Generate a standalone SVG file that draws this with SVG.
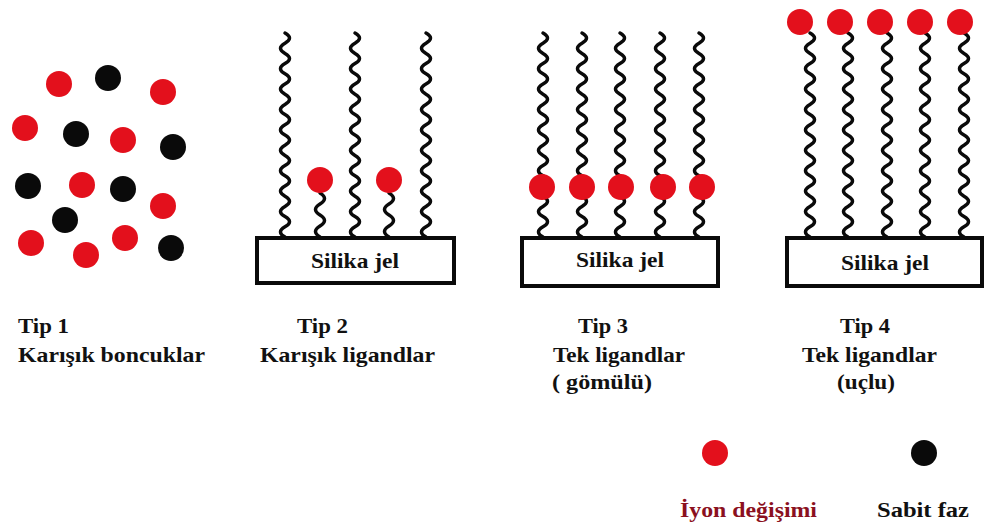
<svg xmlns="http://www.w3.org/2000/svg" xmlns:xlink="http://www.w3.org/1999/xlink" width="985" height="524" viewBox="0 0 985 524">
<style>
.r{fill:#e3101c}
.k{fill:#0a0a0a}
.w{fill:none;stroke:#0a0a0a;stroke-width:3.5;stroke-linejoin:round;stroke-linecap:round}
.box{fill:#fff;stroke:#0a0a0a;stroke-width:4}
.t{font-size:22px;fill:#111}
.s{font-size:21px;fill:#111;text-anchor:middle}
.ion{fill:#8b1020}
</style>
<defs>
<path id="wl" class="w" d="M0 0q9 5.1 0 10.2t0 10.2t0 10.2t0 10.2t0 10.2t0 10.2t0 10.2t0 10.2t0 10.2t0 10.2t0 10.2t0 10.2t0 10.2t0 10.2t0 10.2t0 10.2t0 10.2t0 10.2t0 10.2t0 10.2"/>
<path id="ws" class="w" d="M0 0q9 5.5 0 11t0 11t0 11t0 11"/>
</defs>
<rect width="985" height="524" fill="#fff"/>
<g font-family="Liberation Serif, DejaVu Serif, serif" font-weight="bold">
<g id="type1">
<circle class="r" cx="59" cy="84" r="13"/>
<circle class="k" cx="108" cy="78" r="13"/>
<circle class="r" cx="163" cy="92" r="13"/>
<circle class="r" cx="25" cy="128" r="13"/>
<circle class="k" cx="76" cy="134" r="13"/>
<circle class="r" cx="123" cy="140" r="13"/>
<circle class="k" cx="173" cy="147" r="13"/>
<circle class="k" cx="28" cy="186" r="13"/>
<circle class="r" cx="82" cy="185" r="13"/>
<circle class="k" cx="123" cy="189" r="13"/>
<circle class="r" cx="163" cy="206" r="13"/>
<circle class="k" cx="65" cy="220" r="13"/>
<circle class="r" cx="31" cy="243" r="13"/>
<circle class="r" cx="125" cy="238" r="13"/>
<circle class="r" cx="86" cy="255" r="13"/>
<circle class="k" cx="171" cy="248" r="13"/>
<text class="t" x="18" y="333" textLength="51" lengthAdjust="spacingAndGlyphs">Tip 1</text>
<text class="t" x="18" y="362" textLength="187" lengthAdjust="spacingAndGlyphs">Karışık boncuklar</text>
</g>

<g id="type2">
<use xlink:href="#wl" x="285" y="33"/>
<use xlink:href="#wl" x="355" y="33"/>
<use xlink:href="#wl" x="426" y="33"/>
<use xlink:href="#ws" x="320" y="193"/>
<use xlink:href="#ws" x="389" y="193"/>
<circle class="r" cx="320" cy="180" r="13"/>
<circle class="r" cx="389" cy="180" r="13"/>
<rect class="box" x="257" y="238" width="197" height="45"/>
<text class="s" x="355" y="268" textLength="88" lengthAdjust="spacingAndGlyphs">Silika jel</text>
<text class="t" x="297" y="333" textLength="51" lengthAdjust="spacingAndGlyphs">Tip 2</text>
<text class="t" x="260" y="362" textLength="175" lengthAdjust="spacingAndGlyphs">Karışık ligandlar</text>
</g>

<g id="type3">
<use xlink:href="#wl" x="543" y="33"/>
<use xlink:href="#wl" x="582" y="33"/>
<use xlink:href="#wl" x="620" y="33"/>
<use xlink:href="#wl" x="660" y="33"/>
<use xlink:href="#wl" x="699" y="33"/>
<circle class="r" cx="542" cy="187" r="13"/>
<circle class="r" cx="582" cy="187" r="13"/>
<circle class="r" cx="621" cy="187" r="13"/>
<circle class="r" cx="663" cy="187" r="13"/>
<circle class="r" cx="702" cy="187" r="13"/>
<rect class="box" x="522" y="238" width="196" height="48"/>
<text class="s" x="620" y="267" textLength="88" lengthAdjust="spacingAndGlyphs">Silika jel</text>
<text class="t" x="578" y="333" textLength="50" lengthAdjust="spacingAndGlyphs">Tip 3</text>
<text class="t" x="553" y="362" textLength="132" lengthAdjust="spacingAndGlyphs">Tek ligandlar</text>
<text class="t" x="552" y="389" textLength="100" lengthAdjust="spacingAndGlyphs">( gömülü)</text>
</g>

<g id="type4">
<use xlink:href="#wl" x="810" y="33"/>
<use xlink:href="#wl" x="848" y="33"/>
<use xlink:href="#wl" x="887" y="33"/>
<use xlink:href="#wl" x="925" y="33"/>
<use xlink:href="#wl" x="964" y="33"/>
<circle class="r" cx="800" cy="22" r="13"/>
<circle class="r" cx="840" cy="22" r="13"/>
<circle class="r" cx="880" cy="22" r="13"/>
<circle class="r" cx="920" cy="22" r="13"/>
<circle class="r" cx="960" cy="22" r="13"/>
<rect class="box" x="787" y="238" width="195" height="48"/>
<text class="s" x="885" y="270" textLength="88" lengthAdjust="spacingAndGlyphs">Silika jel</text>
<text class="t" x="840" y="333" textLength="50" lengthAdjust="spacingAndGlyphs">Tip 4</text>
<text class="t" x="802" y="362" textLength="135" lengthAdjust="spacingAndGlyphs">Tek ligandlar</text>
<text class="t" x="837" y="389" textLength="58" lengthAdjust="spacingAndGlyphs">(uçlu)</text>
</g>

<g id="legend">
<circle class="r" cx="715" cy="453" r="13"/>
<circle class="k" cx="924" cy="453" r="13"/>
<text class="t ion" x="680" y="517" textLength="137" lengthAdjust="spacingAndGlyphs">İyon değişimi</text>
<text class="t" x="877" y="517" textLength="92" lengthAdjust="spacingAndGlyphs">Sabit faz</text>
</g>
</g>
</svg>
